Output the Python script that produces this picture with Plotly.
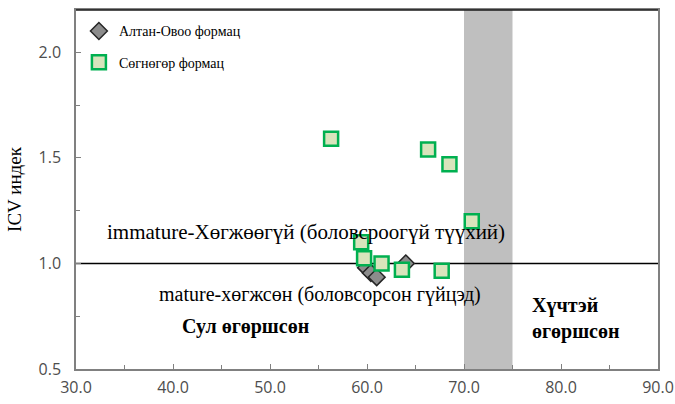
import plotly.graph_objects as go

# CIA (x) vs ICV index (y)
altan_x = [64.0, 59.9, 60.4, 61.0]
altan_y = [1.00, 0.98, 0.955, 0.935]

sogn_x = [56.3, 66.3, 68.5, 70.8, 59.4, 59.7, 61.5, 63.6, 67.7]
sogn_y = [1.59, 1.54, 1.47, 1.20, 1.10, 1.025, 1.00, 0.97, 0.965]

x_ticks = [30, 40, 50, 60, 70, 80, 90]
y_ticks = [0.5, 1.0, 1.5, 2.0]
strong_band = [70, 75]
icv_limit = 1.0

serif = "Liberation Serif"
sans = "Open Sans"

fig = go.Figure()

fig.add_trace(go.Scatter(
    x=[x_ticks[0], x_ticks[-1]], y=[icv_limit, icv_limit], mode="lines",
    line=dict(color="black", width=1.5), showlegend=False, hoverinfo="skip"))

fig.add_trace(go.Scatter(
    x=altan_x, y=altan_y, mode="markers", name="Алтан-Овоо формац",
    legendgroup="a",
    marker=dict(symbol="diamond", size=13, color="#8C8C8C",
                line=dict(color="#262626", width=1.5))))

fig.add_trace(go.Scatter(
    x=sogn_x, y=sogn_y, mode="markers", name="Сөгнөгөр формац",
    legendgroup="b",
    marker=dict(symbol="square", size=14, color="#D8E4BC",
                line=dict(color="#00B050", width=2.5))))

fig.add_shape(type="rect", xref="x", yref="paper",
              x0=strong_band[0], x1=strong_band[1], y0=0, y1=1,
              fillcolor="#BFBFBF", line=dict(width=0), layer="below")
fig.add_shape(type="line", xref="paper", yref="paper", x0=0, x1=1, y0=1, y1=1,
              line=dict(color="#1a1a1a", width=1.5))

fig.add_annotation(x=53.7, y=1.148, text="immature-Хөгжөөгүй (боловсроогүй түүхий)",
                   showarrow=False, font=dict(family=serif, size=21, color="black"))
fig.add_annotation(x=55.2, y=0.855, text="mature-хөгжсөн (боловсорсон гүйцэд)",
                   showarrow=False, font=dict(family=serif, size=20, color="black"))
fig.add_annotation(x=47.5, y=0.70, text="<b>Сул өгөршсөн</b>",
                   showarrow=False, font=dict(family=serif, size=20, color="black"))
fig.add_annotation(x=76.8, y=0.74, text="<b>Хүчтэй<br>өгөршсөн</b>",
                   showarrow=False, xanchor="left", align="left",
                   font=dict(family=serif, size=20, color="black"))

axis_common = dict(showline=True, linecolor="#808080", linewidth=1.5, mirror=True,
                   ticks="inside", ticklen=5, tickcolor="#808080",
                   showgrid=False, zeroline=False, automargin=False,
                   tickfont=dict(family=sans, size=16, color="#4d4d4d"))

fig.update_xaxes(range=[30, 90], tickvals=x_ticks, tickformat=".1f",
                 ticklabelstandoff=3,
                 minor=dict(ticks="inside", dtick=5, ticklen=4, tickcolor="#808080"),
                 **axis_common)
fig.update_yaxes(range=[0.5, 2.2], tickvals=y_ticks, tickformat=".1f",
                 ticklabelstandoff=10,
                 minor=dict(ticks="inside", dtick=0.25, tick0=0.5, ticklen=4,
                            tickcolor="#808080"),
                 title=dict(text="ICV индек", font=dict(family=serif, size=19, color="black"),
                            standoff=12),
                 **axis_common)

fig.update_layout(
    width=675, height=404,
    margin=dict(l=76, r=17, t=10, b=35),
    plot_bgcolor="white", paper_bgcolor="white",
    legend=dict(x=0.005, y=0.985, xanchor="left", yanchor="top",
                bgcolor="rgba(0,0,0,0)", tracegroupgap=10,
                font=dict(family=serif, size=14, color="black"),
                itemwidth=30),
)

fig.write_html("out.html")
